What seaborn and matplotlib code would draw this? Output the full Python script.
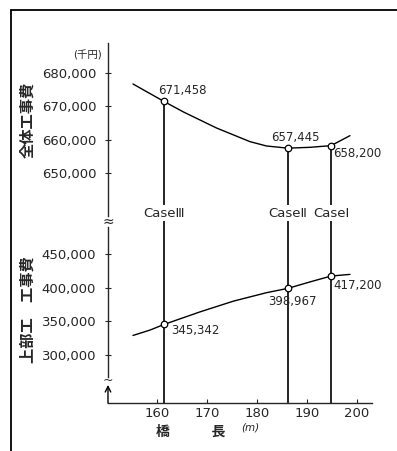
# -*- coding: utf-8 -*-

import matplotlib.pyplot as plt
import matplotlib.lines as mlines
import seaborn as sns
import pandas as pd

# 스타일
sns.set_style('white')
plt.rcParams['font.family'] = ['DejaVu Sans', 'Noto Sans CJK JP']

# 각 Case 의 교장(m)과 공사비(천엔)
cases = ['CaseⅢ', 'CaseⅡ', 'CaseⅠ']
case_len = [161.4, 186.2, 194.8]
total_cost = [671458, 657445, 658200]   # 全体工事費
super_cost = [345342, 398967, 417200]   # 上部工 工事費

# 곡선
total_x = [155.2, 161.4, 165.3, 171.9, 178.6, 181.9, 186.2, 190.6, 194.8, 198.6]
total_y = [676700, 671458, 668300, 663500, 659400, 658100, 657445, 657700, 658200, 661200]
super_x = [155.2, 158.6, 161.4, 168.6, 175.3, 181.9, 186.2, 190.6, 194.8, 198.6]
super_y = [329000, 337000, 345342, 364000, 380000, 392500, 398967, 408500, 417200, 419700]

x_ticks = [160, 170, 180, 190, 200]
top_ticks = [650000, 660000, 670000, 680000]
bottom_ticks = [300000, 350000, 400000, 450000]

total_df = pd.DataFrame({'len': total_x, 'cost': total_y})
super_df = pd.DataFrame({'len': super_x, 'cost': super_y})
pts = pd.DataFrame({'len': case_len, 'total': total_cost, 'super': super_cost})

fig = plt.figure(figsize=(3.97, 4.51), dpi=100)
ax1 = fig.add_axes([0.272, 0.5078, 0.665, 0.3969])
ax2 = fig.add_axes([0.272, 0.1064, 0.665, 0.4014])

xlim = (150.2, 203)
y1lim = (635300, 689000)
y2lim = (228700, 497500)

# 위쪽: 전체 공사비
sns.lineplot(data=total_df, x='len', y='cost', color='black', lw=1.0, ax=ax1)
ax1.vlines(case_len, y1lim[0], total_cost, color='black', lw=1.2, zorder=2)
sns.scatterplot(data=pts, x='len', y='total', s=22, facecolor='white',
                edgecolor='black', linewidth=0.9, zorder=5, ax=ax1)

# 아래쪽: 상부공 공사비
sns.lineplot(data=super_df, x='len', y='cost', color='black', lw=1.0, ax=ax2)
for x in case_len:
    ax2.axvline(x, color='black', lw=1.2, zorder=2)
sns.scatterplot(data=pts, x='len', y='super', s=22, facecolor='white',
                edgecolor='black', linewidth=0.9, zorder=5, ax=ax2)

# 값 표시
top_offs = [((-4, 3), 'left', 'bottom'), ((5, 3), 'center', 'bottom'), ((1.5, -1), 'left', 'top')]
bot_offs = [((5, -4), 'left', 'center'), ((3, -5), 'center', 'top'), ((1.5, -2), 'left', 'top')]
for x, v, (off, ha, va) in zip(case_len, total_cost, top_offs):
    ax1.annotate(f'{v:,}', (x, v), xytext=off, textcoords='offset points',
                 ha=ha, va=va, fontsize=8.5)
for x, v, (off, ha, va) in zip(case_len, super_cost, bot_offs):
    ax2.annotate(f'{v:,}', (x, v), xytext=off, textcoords='offset points',
                 ha=ha, va=va, fontsize=8.5)

# Case 라벨
for x, c in zip(case_len, cases):
    ax1.text(x, 0.05, c, transform=ax1.get_xaxis_transform(), ha='center',
             va='center', fontsize=9.5, zorder=6,
             bbox=dict(facecolor='white', edgecolor='none', pad=1))

# 축 설정
for ax in (ax1, ax2):
    ax.set_xlim(xlim)
    ax.set_xlabel('')
    ax.set_ylabel('')
    ax.spines['top'].set_visible(False)
    ax.spines['right'].set_visible(False)
    ax.patch.set_alpha(0)

ax1.set_ylim(y1lim)
ax1.spines['bottom'].set_visible(False)
ax1.spines['left'].set_bounds(637000, y1lim[1])
ax1.set_xticks([])
ax1.set_yticks(top_ticks)
ax1.set_yticklabels([f'{t:,}' for t in top_ticks])

ax2.set_ylim(y2lim)
ax2.spines['left'].set_bounds(267300, 490100)
ax2.set_yticks(bottom_ticks)
ax2.set_yticklabels([f'{t:,}' for t in bottom_ticks])
ax2.set_xticks(x_ticks)
ax2.set_xticklabels([str(t) for t in x_ticks])

for ax in (ax1, ax2):
    ax.tick_params(axis='y', direction='inout', length=5, width=0.8,
                   labelsize=9.5, pad=6, left=True)
    ax.spines['left'].set_linewidth(1.0)
    ax.spines['bottom'].set_linewidth(1.0)
ax2.tick_params(axis='x', direction='in', length=3, width=0.8,
                labelsize=9.5, pad=3, bottom=True)

# 축 생략 표시
ax2.annotate('', xy=(0, 0.1), xytext=(0, 0), xycoords='axes fraction',
             arrowprops=dict(arrowstyle='->', lw=1.0, color='black',
                             shrinkA=0, shrinkB=0))
ax2.text(0, 0.125, '~', transform=ax2.transAxes, ha='center', va='center', fontsize=9)
fig.text(0.272, 1 - 222 / 451, '≈', ha='center', va='center', fontsize=10)

# 라벨
fig.text(0.07, 0.734, '全体工事費', rotation=90, ha='center', va='center',
         fontsize=11, fontweight='bold')
fig.text(0.07, 0.3126, '上部工　工事費', rotation=90, ha='center', va='center',
         fontsize=11, fontweight='bold')
fig.text(88 / 397, 1 - 55 / 451, '(千円)', ha='center', va='center', fontsize=7.5)
fig.text(0.48, 0.042, '橋　　　長', ha='center', va='center', fontsize=10,
         fontweight='bold')
fig.text(250 / 397, 1 - 427 / 451, '(m)', ha='center', va='center', fontsize=7.5,
         style='italic')

# 테두리
fig.add_artist(mlines.Line2D([11 / 397, 11 / 397], [0, 1 - 10 / 451],
                             transform=fig.transFigure, color='black', lw=1.3))
fig.add_artist(mlines.Line2D([11 / 397, 1], [1 - 10 / 451, 1 - 10 / 451],
                             transform=fig.transFigure, color='black', lw=1.3))

fig.savefig('out.png', dpi=100)
